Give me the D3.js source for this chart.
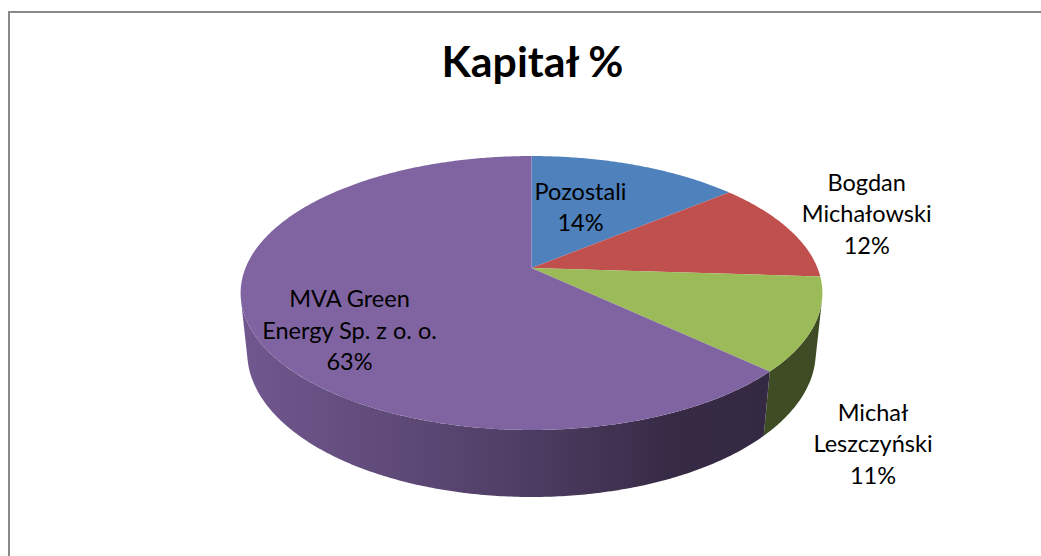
<!DOCTYPE html>
<html lang="pl">
<head>
    <meta charset="UTF-8">
    <title>Kapitał %</title>
    <script src="https://d3js.org/d3.v7.min.js"></script>
    <style>
        body { margin: 0; background: #fff; }
        svg { display: block; }
        text { font-family: Lato, "Open Sans", sans-serif; fill: #000; }
    </style>
</head>
<body>
    <svg width="1041" height="556"></svg>

    <script>
        // chart data
        const title = "Kapitał %";
        const categories = ["Pozostali", "Bogdan Michałowski", "Michał Leszczyński", "MVA Green Energy Sp. z o. o."];
        const values = [14, 12, 11, 63];
        const colors = ["#4F81BD", "#C0504D", "#9BBB59", "#8064A2"];
        // how each category name is broken across lines in the data labels
        const labelNameLines = [["Pozostali"], ["Bogdan", "Michałowski"], ["Michał", "Leszczyński"], ["MVA Green", "Energy Sp. z o. o."]];

        const width = 1041, height = 556;

        // 3D view of the pie (unit radius disk, seen from above and in front)
        const cx = 531.5, cy = 268;
        const A = 286;          // screen scale at the disk centre
        const viewDist = 4.855; // camera distance in radius units
        const sinE = 0.463, cosE = 0.886;
        const thick = 0.2366;   // pie thickness in radius units
        const F = A * viewDist;

        function project(theta, r, y) {
            const X = r * Math.sin(theta), Z = r * Math.cos(theta);
            const w = viewDist + cosE * Z - sinE * y;
            return [cx + F * X / w, cy - F * (cosE * y + sinE * Z) / w];
        }

        // label anchors (centre x, first baseline y) and line spacing
        const labelAnchors = [[580.5, 199.5], [866.7, 190.7], [873, 420.5], [349.5, 307]];
        const lineStep = 31.5;

        const svg = d3.select("svg");

        // chart area border (only top and left edges visible)
        svg.append("path")
            .attr("d", `M9,${height}V12H${width}`)
            .attr("fill", "none")
            .attr("stroke", "#888")
            .attr("stroke-width", 2);

        const pie = d3.pie().sort(null).value(d => d);
        const arcs = pie(values);

        const line = d3.line();
        function arcPoints(a0, a1, y) {
            const n = Math.max(2, Math.ceil(Math.abs(a1 - a0) / 0.01));
            return d3.range(n + 1).map(i => project(a0 + (a1 - a0) * i / n, 1, y));
        }

        // side wall shading gradients
        const defs = svg.append("defs");
        const shade = [[0, 0.88], [0.45, 0.64], [0.75, 0.42], [1, 0.40]];
        colors.forEach((c, i) => {
            const g = defs.append("linearGradient")
                .attr("id", "side" + i)
                .attr("gradientUnits", "userSpaceOnUse")
                .attr("x1", cx - A * 1.02).attr("x2", cx + A * 1.02)
                .attr("y1", 0).attr("y2", 0);
            shade.forEach(([o, f]) => {
                const b = d3.rgb(c);
                g.append("stop")
                    .attr("offset", o)
                    .attr("stop-color", d3.rgb(b.r * f, b.g * f, b.b * f).formatHex());
            });
        });

        // visible part of the outer wall faces the camera
        const L = cosE * viewDist;
        const visLo = Math.acos(-1 / L), visHi = 2 * Math.PI - visLo;

        svg.append("g").selectAll("path")
            .data(arcs.filter(d => d.endAngle > visLo && d.startAngle < visHi))
            .join("path")
            .attr("d", d => {
                const a0 = Math.max(d.startAngle, visLo), a1 = Math.min(d.endAngle, visHi);
                const pts = arcPoints(a0, a1, 0).concat(arcPoints(a1, a0, -thick));
                return line(pts) + "Z";
            })
            .attr("fill", d => `url(#side${d.index})`);

        // top faces
        svg.append("g").selectAll("path")
            .data(arcs)
            .join("path")
            .attr("d", d => line([project(0, 0, 0)].concat(arcPoints(d.startAngle, d.endAngle, 0))) + "Z")
            .attr("fill", (d, i) => colors[i]);

        // title
        const titleText = svg.append("text")
            .attr("x", 532.5)
            .attr("y", 76.7)
            .attr("text-anchor", "middle")
            .attr("font-weight", "bold")
            .attr("font-size", 40)
            .text(title);
        const tw = titleText.node().getComputedTextLength();
        titleText.attr("font-size", 40 * 182 / tw);

        // data labels
        const total = d3.sum(values);
        const fmt = v => Math.round(v / total * 100) + "%";
        const labels = svg.append("g").attr("font-size", 24);
        arcs.forEach((d, i) => {
            const lines = labelNameLines[i].concat([fmt(d.value)]);
            const t = labels.append("text")
                .attr("text-anchor", "middle")
                .attr("x", labelAnchors[i][0])
                .attr("y", labelAnchors[i][1]);
            lines.forEach((s, j) => {
                t.append("tspan")
                    .attr("x", labelAnchors[i][0])
                    .attr("dy", j === 0 ? 0 : lineStep)
                    .text(s);
            });
        });
        // fit label size to the reference width of "Michałowski" (~130px)
        const probe = labels.append("text").text("Michałowski");
        const pw = probe.node().getComputedTextLength();
        probe.remove();
        labels.attr("font-size", 24 * 130 / pw);
    </script>
</body>
</html>
